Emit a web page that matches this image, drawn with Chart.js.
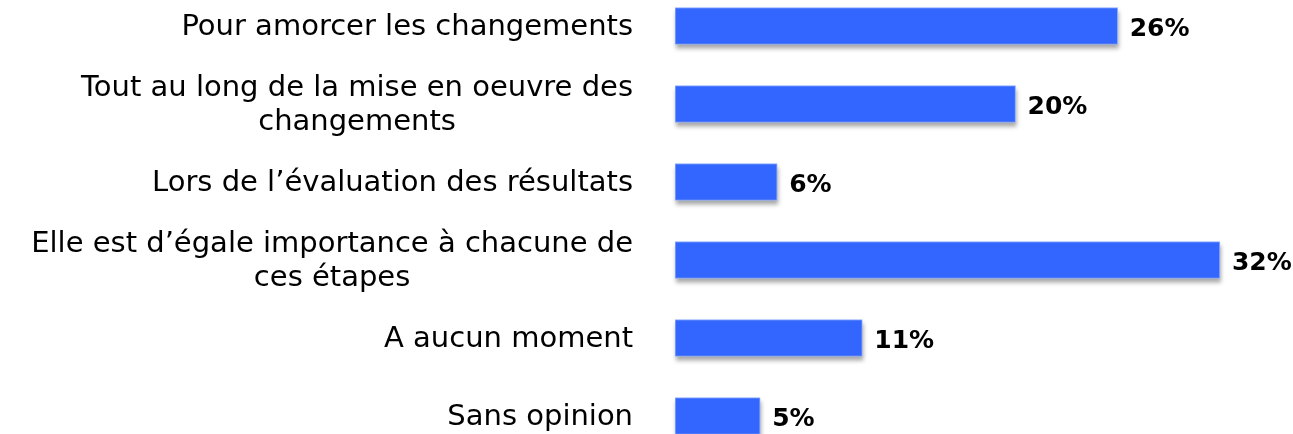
<!DOCTYPE html>
<html>
<head>
<meta charset="utf-8">
<script src="https://cdn.jsdelivr.net/npm/chart.js@4/dist/chart.umd.min.js"></script>
<style>
  html, body { margin: 0; padding: 0; background: #fff; overflow: hidden; }
  #wrap { position: absolute; left: 0; top: -13px; width: 1293px; height: 468px; }
</style>
</head>
<body>
<div id="wrap"><canvas id="myChart"></canvas></div>
<script>
const ctx = document.getElementById('myChart').getContext('2d');

const etapes = [
  ['Pour amorcer les changements'],
  ['Tout au long de la mise en oeuvre des', 'changements'],
  ['Lors de l\u2019évaluation des résultats'],
  ['Elle est d\u2019égale importance à chacune de', 'ces étapes'],
  ['A aucun moment'],
  ['Sans opinion']
];
const pourcentages = [26, 20, 6, 32, 11, 5];

const fontLabel = '29px "DejaVu Sans", sans-serif';
const fontValeur = 'bold 25px "DejaVu Sans", sans-serif';

// ombre grise sous les barres, dessinée avant elles
const ombre = {
  id: 'ombre',
  beforeDatasetsDraw(chart) {
    const c = chart.ctx;
    const meta = chart.getDatasetMeta(0);
    c.save();
    c.fillStyle = 'rgba(0, 0, 0, 0.35)';
    c.filter = 'blur(2px)';
    meta.data.forEach(bar => {
      const h = bar.height;
      c.fillRect(bar.base + 1, bar.y - h / 2 + 4, bar.x - bar.base, h);
    });
    c.restore();
  }
};

// libellés des catégories (centrés ligne par ligne, bloc aligné à droite)
// et valeurs en bout de barre
const textes = {
  id: 'textes',
  afterDraw(chart) {
    const c = chart.ctx;
    const yScale = chart.scales.y;
    const droite = chart.chartArea.left - 42;
    c.save();
    c.fillStyle = '#000';
    c.font = fontLabel;
    c.textBaseline = 'middle';
    c.textAlign = 'center';
    etapes.forEach((lignes, i) => {
      const large = Math.max(...lignes.map(l => c.measureText(l).width));
      const cx = droite - large / 2;
      const cy = yScale.getPixelForValue(i) + 1;
      lignes.forEach((l, j) => {
        c.fillText(l, cx, cy + (j - (lignes.length - 1) / 2) * 34);
      });
    });

    const meta = chart.getDatasetMeta(0);
    c.font = fontValeur;
    c.textAlign = 'left';
    meta.data.forEach((bar, i) => {
      c.fillText(pourcentages[i] + '%', bar.x + 12, bar.y + 3);
    });
    c.restore();
  }
};

const data = {
  labels: etapes.map(l => l.join(' ')),
  datasets: [{
    data: pourcentages,
    backgroundColor: '#3366FF',
    borderColor: '#8FAEFF',
    borderWidth: 1,
    borderSkipped: false,
    barThickness: 37
  }]
};

const config = {
  type: 'bar',
  data: data,
  options: {
    indexAxis: 'y',
    responsive: true,
    maintainAspectRatio: false,
    animation: false,
    layout: {
      padding: { left: 675, right: 5, top: 0, bottom: 0 }
    },
    plugins: {
      legend: { display: false },
      tooltip: { enabled: false }
    },
    scales: {
      x: {
        display: false,
        min: 0,
        max: 36
      },
      y: {
        display: false,
        offset: true
      }
    }
  },
  plugins: [ombre, textes]
};

const myChart = new Chart(ctx, config);
</script>
</body>
</html>
